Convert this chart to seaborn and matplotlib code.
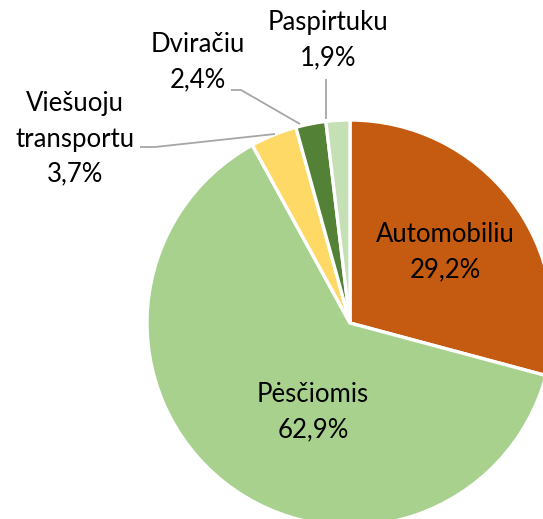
import matplotlib
matplotlib.use("Agg")
import matplotlib.pyplot as plt
import seaborn as sns

categories = ["Automobiliu", "Pėsčiomis", "Viešuoju\ntransportu", "Dviračiu", "Paspirtuku"]
values = [29.2, 62.9, 3.7, 2.4, 1.9]
value_labels = ["29,2%", "62,9%", "3,7%", "2,4%", "1,9%"]
colors = ["#C55A11", "#A9D18E", "#FFD966", "#538135", "#C5E0B4"]

sns.set_theme(style="white")
plt.rcParams['font.family'] = ['Lato', 'DejaVu Sans']

W, H = 543, 519
DPI = 100
fig = plt.figure(figsize=(W / DPI, H / DPI), dpi=DPI)
ax = fig.add_axes([0, 0, 1, 1])

CX, CY, R = 350, 323, 203

def px(x, y):
    return ((x - CX) / R, (CY - y) / R)

ax.pie(values, colors=colors, startangle=90, counterclock=False, radius=1,
       wedgeprops=dict(edgecolor="white", linewidth=2.4))
ax.set_xlim(-CX / R, (W - CX) / R)
ax.set_ylim(-(H - CY) / R, CY / R)
ax.set_aspect("auto")
ax.axis("off")

fs = 18.5
label_pos = [(445, 252), (313, 412), (75, 139), (198, 62), (328, 40)]
for (x, y), cat, val in zip(label_pos, categories, value_labels):
    X, Y = px(x, y)
    ax.text(X, Y, f"{cat}\n{val}", ha="center", va="center", fontsize=fs,
            color="black", linespacing=1.5)

lc = "#A6A6A6"
leaders = [
    [(140, 147), (155, 147), (275, 134)],
    [(231, 90), (241, 90), (300, 124)],
    [(326, 79), (326, 119)],
]
for pts in leaders:
    xs, ys = zip(*[px(x, y) for x, y in pts])
    ax.plot(xs, ys, color=lc, linewidth=1.3, solid_capstyle="butt")

fig.savefig("out.png", dpi=DPI)
